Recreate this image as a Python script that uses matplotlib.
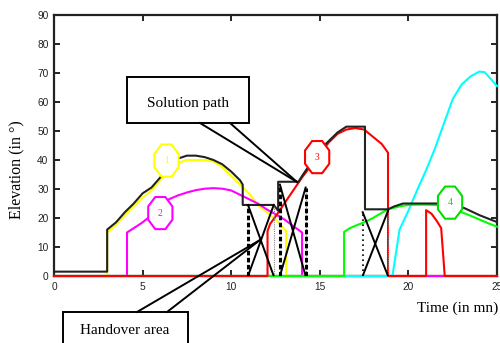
import matplotlib
matplotlib.use("Agg")
import matplotlib.pyplot as plt
from matplotlib.patches import Polygon, Rectangle
import numpy as np

# ---------------- data ----------------
sat1_t = [0, 3.0, 3.0, 3.5, 4, 4.5, 5, 5.5, 6, 6.5, 7, 7.5, 8, 8.5, 9, 9.5, 10, 10.5, 11, 11.5, 12, 12.5, 13.1, 13.1, 25]
sat1_e = [0, 0, 15, 17.5, 21, 24, 27, 29.5, 33, 36.5, 39, 40, 40, 40, 39.5, 37.5, 34.5, 31.5, 28.5, 24.5, 22, 19.5, 15.5, 0, 0]

sat2_t = [0, 4.12, 4.12, 4.5, 5, 5.5, 6, 6.5, 7, 7.5, 8, 8.5, 9, 9.5, 10, 10.5, 11, 11.5, 12, 12.5, 13, 13.5, 14.0, 14.0, 25]
sat2_e = [0, 0, 15, 16.5, 18.5, 21, 24, 26.5, 27.8, 28.8, 29.6, 30.1, 30.3, 30.1, 29.5, 28, 26.5, 25, 23, 21.3, 19.5, 17.2, 15, 0, 0]

sat3_t = [0, 12.05, 12.05, 12.2, 12.5, 12.75, 13, 13.5, 14, 14.5, 15, 15.5, 16, 16.5, 17, 17.5, 18, 18.5, 18.85, 18.85,
          21.0, 21.0, 21.3, 21.6, 21.85, 22.05, 25]
sat3_e = [0, 0, 15.5, 18, 20.5, 22.7, 25, 29.5, 34, 38, 42, 46, 49, 50.5, 51, 50.5, 48, 45.5, 42.5, 0,
          0, 22.7, 21.5, 19, 16.5, 0, 0]

sat4_t = [0, 16.37, 16.37, 16.7, 17, 17.5, 18, 18.5, 18.85, 19.5, 20, 20.5, 21, 21.5, 22, 22.5, 23, 23.5, 24, 24.5, 25]
sat4_e = [0, 0, 15.2, 16.5, 17.3, 18.5, 20, 21.8, 23, 24, 24.5, 24.6, 24.6, 24.5, 24.2, 23.2, 22, 20.8, 19.5, 18.2, 17]

sat5_t = [0, 19.1, 19.3, 19.5, 20, 20.5, 21, 21.5, 22, 22.5, 23, 23.5, 24, 24.3, 24.6, 25]
sat5_e = [0, 0, 8, 16, 22.5, 29.7, 36.5, 44, 52.5, 61, 66, 68.8, 70.5, 70.3, 68.3, 65.5]

path_t = [0, 3.0, 3.0, 3.5, 4, 4.5, 5, 5.5, 6, 6.5, 7, 7.5, 8, 8.5, 9, 9.5, 10, 10.5, 10.65, 10.65, 12.4, 12.65, 12.65,
          13.8, 14, 14.5, 15, 15.5, 16, 16.5, 17, 17.55, 17.55, 18.85, 19.2, 19.7, 20.5, 21.5, 22.3, 22.7, 23.2, 24, 24.5, 25]
path_e = [1.5, 1.5, 16, 18.5, 22, 25, 28.5, 30.5, 34, 37.5, 40.5, 41.5, 41.5, 41, 40, 38.5, 36, 33, 31.5, 24.5, 24.5, 22.5, 32.5,
          32.5, 34.5, 39, 43.5, 46.5, 49.5, 51.5, 51.5, 51.5, 23, 23, 24, 25, 25, 25, 25, 24.5, 23.3, 21, 19.8, 18.6]

# handover areas: (start, end, height)
ho_start = [10.95, 12.75, 17.42]
ho_end = [12.4, 14.2, 18.85]
ho_top_start = [24.5, 31.5, 22.0]
ho_top_end = [24.5, 30.5, 22.5]

labels = ["1", "2", "3", "4"]
label_t = [6.35, 6.0, 14.85, 22.35]
label_e = [39.8, 21.7, 41.0, 25.3]
label_col = ["#ffff00", "#ff00ff", "#ff0000", "#00e000"]

xticks = [0, 5, 10, 15, 20, 25]
yticks = [0, 10, 20, 30, 40, 50, 60, 70, 80, 90]

# ---------------- figure ----------------
W, H = 500, 343
fig = plt.figure(figsize=(5.0, 3.43), dpi=100)
ax = fig.add_axes([54 / W, 1 - 276 / H, (497 - 54) / W, (276 - 15) / H])
ax.set_xlim(0, 25)
ax.set_ylim(0, 90)

lw = 1.5
ax.plot(sat1_t, sat1_e, color="#ffff00", lw=lw, zorder=3.0, clip_on=False)
ax.plot(sat2_t, sat2_e, color="#ff00ff", lw=lw, zorder=3.1, clip_on=False)
ax.plot(sat5_t, sat5_e, color="#00ffff", lw=lw, zorder=3.2, clip_on=False)
ax.plot(sat4_t, sat4_e, color="#00ff00", lw=lw, zorder=3.3, clip_on=False)
ax.plot(sat3_t, sat3_e, color="#ff0000", lw=lw, zorder=3.4, clip_on=False)
ax.plot(path_t, path_e, color="#222222", lw=lw, zorder=3.5)

# handover markers
for i, (a, b, ha_, hb_) in enumerate(zip(ho_start, ho_end, ho_top_start, ho_top_end)):
    ax.plot([a, b], [ha_, 0], color="black", lw=1.4, zorder=4)
    ax.plot([b, a], [hb_, 0], color="black", lw=1.4, zorder=4)
    ax.plot([b, b], [0, hb_], color="#888888", lw=0.8, ls=(0, (1, 1)), zorder=3.6)
    if i < 2:
        ax.plot([a, a], [0, ha_], color="black", lw=2.2, ls=(0, (1.5, 0.8)), zorder=3.7)
    else:
        ax.plot([a, a], [0, ha_], color="black", lw=1.2, ls=(0, (1, 2)), zorder=3.7)
# extra thick dashed at end of second handover
ax.plot([ho_end[1], ho_end[1]], [0, ho_top_end[1]], color="black", lw=2.2, ls=(0, (1.5, 0.8)), zorder=3.7)

# numbered octagon labels
rx, ry = 0.74, 6.0
ang = np.deg2rad(np.arange(8) * 45 + 22.5)
for txt, tx, ty, c in zip(labels, label_t, label_e, label_col):
    pts = np.column_stack([tx + rx * np.cos(ang), ty + ry * np.sin(ang)])
    ax.add_patch(Polygon(pts, closed=True, facecolor="white", edgecolor=c, lw=1.5, zorder=6))
    ax.text(tx, ty, txt, color=c, ha="center", va="center", fontsize=7,
            family="Liberation Serif", zorder=7)

# ticks / spines
ax.set_xticks(xticks)
ax.set_yticks(yticks)
ax.tick_params(direction="in", top=True, right=True, length=4, width=1.2,
               labelsize=7.3, pad=4)
for lab in ax.get_xticklabels() + ax.get_yticklabels():
    lab.set_family("Liberation Sans")
    lab.set_color("#222222")
for s in ax.spines.values():
    s.set_linewidth(1.6)
    s.set_color("#222222")


def fp(x, y):
    return (x / W, 1 - y / H)


# Callout helper (pixel coords)
def callout(box, base1, base2, tip, text, text_xy):
    x0, y0, x1, y1 = box
    r = Rectangle(fp(x0, y1), (x1 - x0) / W, (y1 - y0) / H, transform=fig.transFigure,
                  facecolor="white", edgecolor="black", lw=1.4, zorder=10)
    fig.add_artist(r)
    for b in (base1, base2):
        ln = plt.Line2D([fp(*b)[0], fp(*tip)[0]], [fp(*b)[1], fp(*tip)[1]],
                        transform=fig.transFigure, color="black", lw=1.4, zorder=11)
        fig.add_artist(ln)
    fig.text(*fp(*text_xy), text, ha="center", va="center", fontsize=11,
             family="Liberation Serif", zorder=12)


callout((127, 77, 249, 123), (200, 123), (230, 123), (297, 182), "Solution path", (188, 104))
callout((63, 312, 188, 360), (137, 312), (167, 312), (260, 240), "Handover area", (125, 331))

fig.text(*fp(498, 312), "Time (in mn)", ha="right", va="baseline", fontsize=11,
         family="Liberation Serif")
fig.text(*fp(16, 170), "Elevation (in \u00b0)", ha="center", va="center", rotation=90,
         fontsize=11.5, family="Liberation Serif")

fig.savefig("out.png", dpi=100)
